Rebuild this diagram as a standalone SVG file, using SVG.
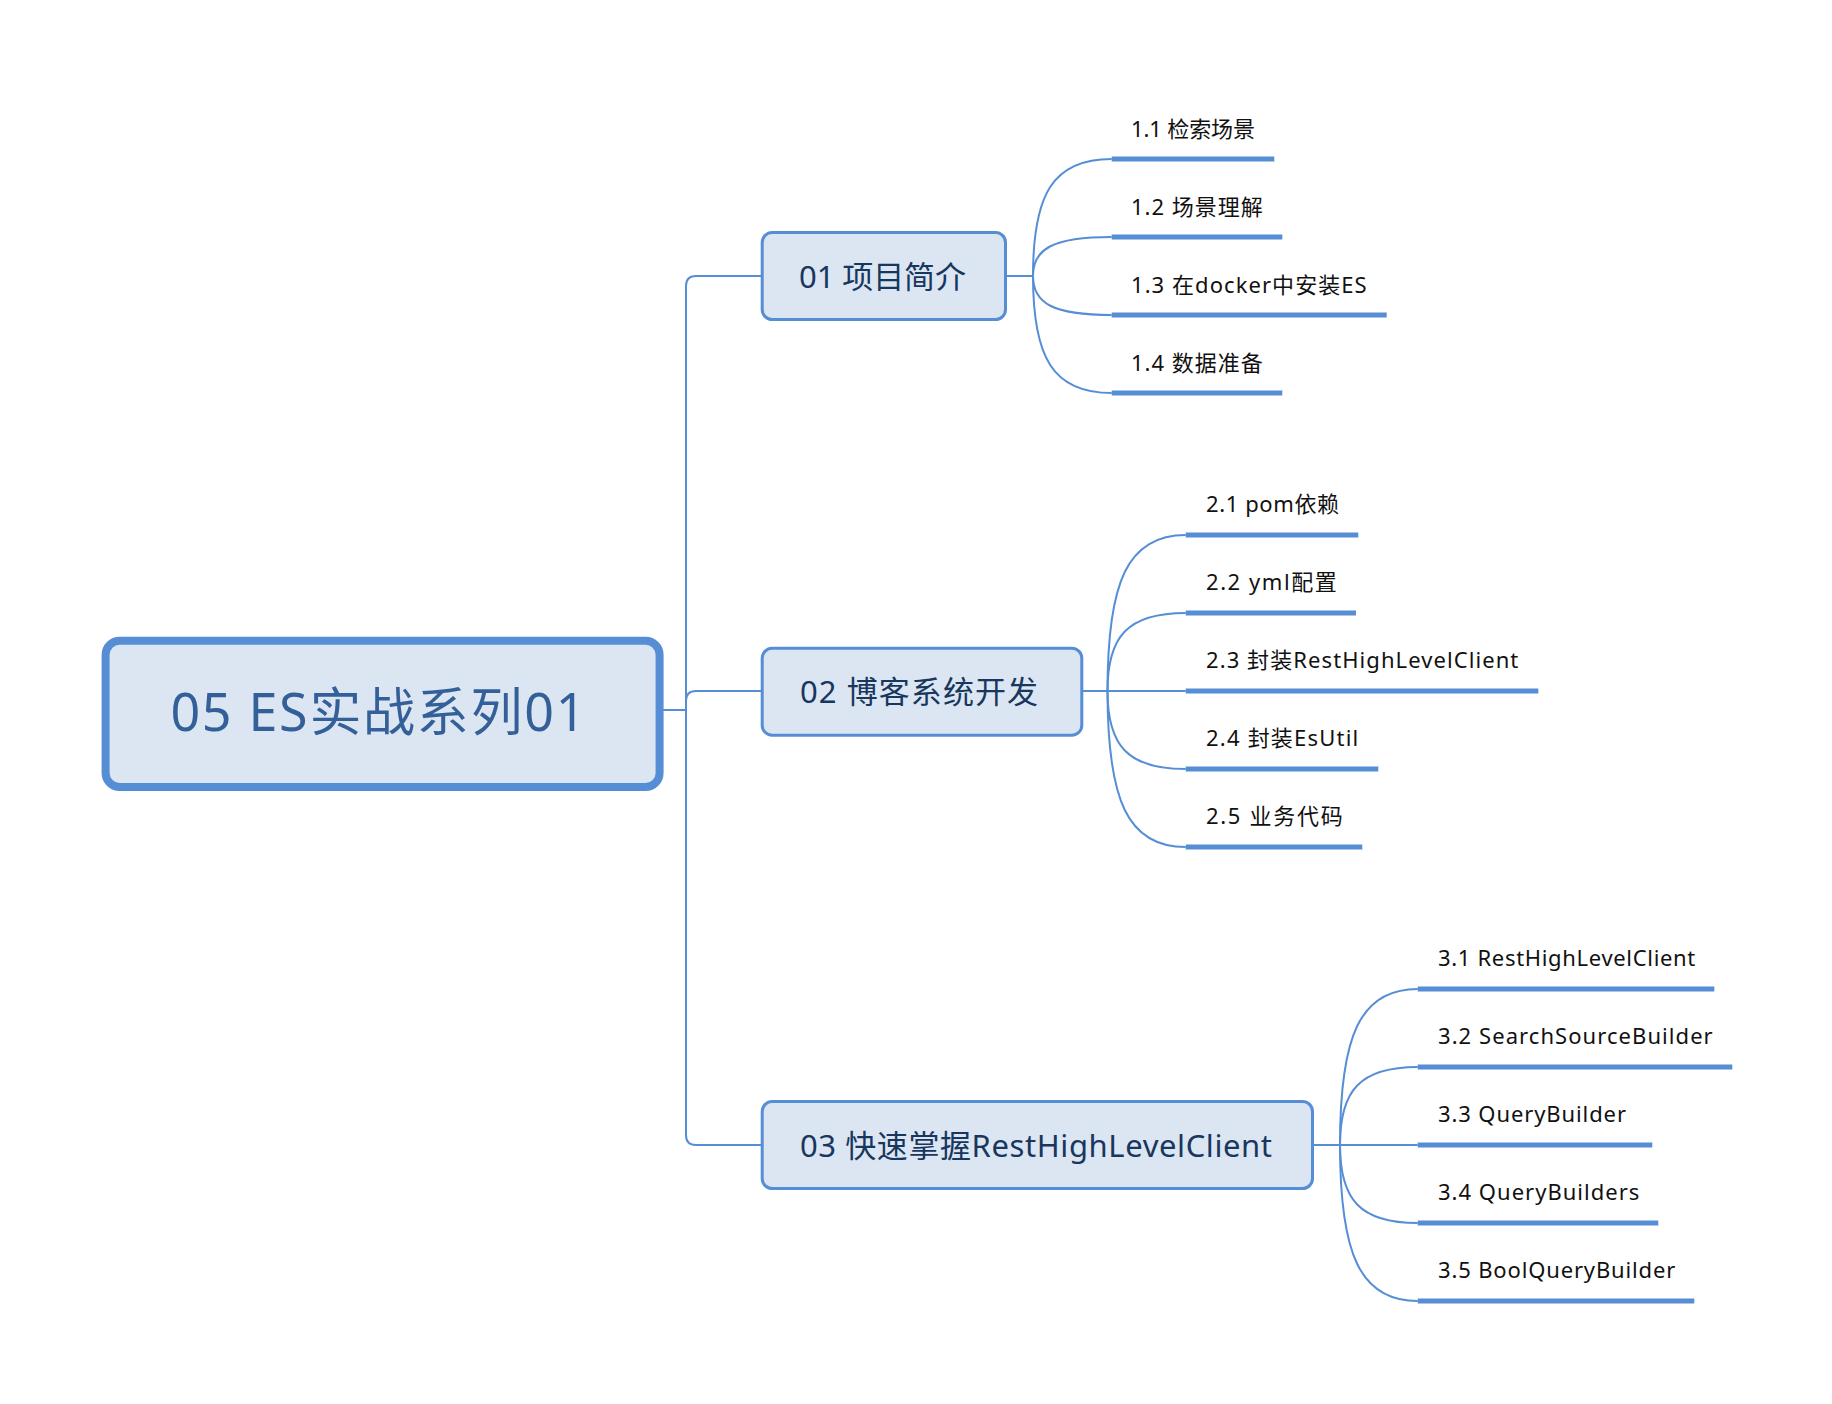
<svg xmlns="http://www.w3.org/2000/svg" width="1832" height="1404" viewBox="0 0 1832 1404">
<style>
.conn{fill:none;stroke:#558ED5;stroke-width:2}
.box{fill:#DCE6F2;stroke:#558ED5;stroke-width:3}
.rootbox{fill:#DCE6F2;stroke:#558ED5;stroke-width:8}
.bar{stroke:#558ED5;stroke-width:5;fill:none}
text{font-family:"Noto Sans","Noto Sans CJK SC",sans-serif}
.rt{font-size:52px;fill:#34609A}
.t1{font-size:31px;fill:#17375E}
.t2{font-size:22px;fill:#111111}
</style>
<rect width="1832" height="1404" fill="#ffffff"/>
<g id="connectors">
<path class="conn" d="M660 710 H686"/>
<path class="conn" d="M686 710 V286 Q686 276 696 276 H762"/>
<path class="conn" d="M686 710 V701 Q686 691 696 691 H762"/>
<path class="conn" d="M686 710 V1135 Q686 1145 696 1145 H762"/>
<path class="conn" d="M1005.5 276 H1033"/>
<path class="conn" d="M1033 276 C1033 194.1 1053 159 1111.7 159"/>
<path class="conn" d="M1033 276 C1033 248.7 1053 237 1111.7 237"/>
<path class="conn" d="M1033 276 C1033 303.3 1053 315 1111.7 315"/>
<path class="conn" d="M1033 276 C1033 357.9 1053 393 1111.7 393"/>
<path class="conn" d="M1083 691 H1185.7"/>
<path class="conn" d="M1107.5 691 C1107.5 581.8 1127.5 535 1185.7 535"/>
<path class="conn" d="M1107.5 691 C1107.5 636.4 1127.5 613 1185.7 613"/>
<path class="conn" d="M1107.5 691 C1107.5 745.6 1127.5 769 1185.7 769"/>
<path class="conn" d="M1107.5 691 C1107.5 800.2 1127.5 847 1185.7 847"/>
<path class="conn" d="M1314 1145 H1417.7"/>
<path class="conn" d="M1340 1145 C1340 1035.8 1360 989 1417.7 989"/>
<path class="conn" d="M1340 1145 C1340 1090.4 1360 1067 1417.7 1067"/>
<path class="conn" d="M1340 1145 C1340 1199.6 1360 1223 1417.7 1223"/>
<path class="conn" d="M1340 1145 C1340 1254.2 1360 1301 1417.7 1301"/>
</g>
<g id="root">
<rect class="rootbox" x="105.6" y="640.8" width="554" height="146.2" rx="14"/>
<text class="rt" x="170.4" y="731" textLength="415" lengthAdjust="spacing">05 ES实战系列01</text>
</g>
<g id="n01">
<rect class="box" x="762.2" y="232.5" width="243.3" height="87" rx="10"/>
<text class="t1" x="799" y="287.5" textLength="167" lengthAdjust="spacing">01 项目简介</text>
</g>
<g id="n02">
<rect class="box" x="762.2" y="648.2" width="319.6" height="87" rx="10"/>
<text class="t1" x="800" y="702.5" textLength="238" lengthAdjust="spacing">02 博客系统开发</text>
</g>
<g id="n03">
<rect class="box" x="762.2" y="1101.5" width="550.3" height="87" rx="10"/>
<text class="t1" x="800" y="1156.5" textLength="472" lengthAdjust="spacing">03 快速掌握RestHighLevelClient</text>
</g>
<g id="n1_1"><line class="bar" x1="1111.7" y1="159" x2="1274.3" y2="159"/><text class="t2" x="1131" y="136.5" textLength="124" lengthAdjust="spacing">1.1 检索场景</text></g>
<g id="n1_2"><line class="bar" x1="1111.7" y1="237" x2="1282.3" y2="237"/><text class="t2" x="1131" y="214.5" textLength="131.7" lengthAdjust="spacing">1.2 场景理解</text></g>
<g id="n1_3"><line class="bar" x1="1111.7" y1="315" x2="1386.7" y2="315"/><text class="t2" x="1131" y="292.5" textLength="235.7" lengthAdjust="spacing">1.3 在docker中安装ES</text></g>
<g id="n1_4"><line class="bar" x1="1111.7" y1="393" x2="1282.3" y2="393"/><text class="t2" x="1131" y="370.5" textLength="131.7" lengthAdjust="spacing">1.4 数据准备</text></g>
<g id="n2_1"><line class="bar" x1="1185.7" y1="535" x2="1358.3" y2="535"/><text class="t2" x="1206" y="512" textLength="133" lengthAdjust="spacing">2.1 pom依赖</text></g>
<g id="n2_2"><line class="bar" x1="1185.7" y1="613" x2="1356" y2="613"/><text class="t2" x="1206" y="590" textLength="130.7" lengthAdjust="spacing">2.2 yml配置</text></g>
<g id="n2_3"><line class="bar" x1="1185.7" y1="691" x2="1538.3" y2="691"/><text class="t2" x="1206" y="668" textLength="312.3" lengthAdjust="spacing">2.3 封装RestHighLevelClient</text></g>
<g id="n2_4"><line class="bar" x1="1185.7" y1="769" x2="1378.3" y2="769"/><text class="t2" x="1206" y="746" textLength="152.3" lengthAdjust="spacing">2.4 封装EsUtil</text></g>
<g id="n2_5"><line class="bar" x1="1185.7" y1="847" x2="1362.3" y2="847"/><text class="t2" x="1206" y="824" textLength="136.7" lengthAdjust="spacing">2.5 业务代码</text></g>
<g id="n3_1"><line class="bar" x1="1417.7" y1="989" x2="1714.3" y2="989"/><text class="t2" x="1438" y="966" textLength="257.3" lengthAdjust="spacing">3.1 RestHighLevelClient</text></g>
<g id="n3_2"><line class="bar" x1="1417.7" y1="1067" x2="1732.3" y2="1067"/><text class="t2" x="1438" y="1044" textLength="274.7" lengthAdjust="spacing">3.2 SearchSourceBuilder</text></g>
<g id="n3_3"><line class="bar" x1="1417.7" y1="1145" x2="1652.3" y2="1145"/><text class="t2" x="1438" y="1122" textLength="188" lengthAdjust="spacing">3.3 QueryBuilder</text></g>
<g id="n3_4"><line class="bar" x1="1417.7" y1="1223" x2="1658.3" y2="1223"/><text class="t2" x="1438" y="1200" textLength="201.3" lengthAdjust="spacing">3.4 QueryBuilders</text></g>
<g id="n3_5"><line class="bar" x1="1417.7" y1="1301" x2="1694.3" y2="1301"/><text class="t2" x="1438" y="1278" textLength="237.3" lengthAdjust="spacing">3.5 BoolQueryBuilder</text></g>
</svg>
